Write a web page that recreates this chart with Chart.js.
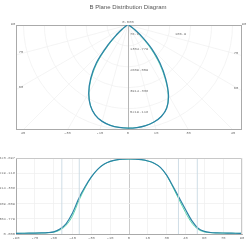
<!DOCTYPE html>
<html><head><meta charset="utf-8">
<script src="https://cdn.jsdelivr.net/npm/chart.js@4.4.1/dist/chart.umd.min.js"></script>
<style>
html,body{margin:0;padding:0;background:#fff;width:247px;height:247px;overflow:hidden}
#title{position:absolute;left:0;top:3px;width:256px;text-align:center;font:6px "Liberation Sans",Arial,sans-serif;color:#555;line-height:8px;white-space:nowrap}
#c1{position:absolute;left:0;top:0}
#c2{position:absolute;left:0;top:140px}
</style></head><body>
<canvas id="c1" width="247" height="140"></canvas>
<canvas id="c2" width="247" height="107"></canvas>
<div id="title">B Plane Distribution Diagram</div>
<script>
// ---- data ----
const angles = [-90,-85,-80,-75,-70,-65,-60,-55,-50,-45,-40,-35,-30,-25,-20,-15,-10,-5,0,5,10,15,20,25,30,35,40,45,50,55,60,65,70,75,80,85,90];
const seriesA = [60,65,70,80,95,120,180,420,900,1800,3050,4050,4900,5550,5980,6230,6360,6420,6440,6430,6380,6270,6080,5720,5050,4100,3100,2100,1150,500,220,130,100,85,75,65,60];
const seriesB = [55,60,65,72,85,105,150,340,760,1550,2850,3950,4870,5540,5975,6225,6355,6415,6435,6425,6375,6265,6070,5710,5020,4000,2920,1850,950,400,180,110,90,78,68,60,55];
const intensityTicks = [0, 1304.779, 2609.559, 3914.338, 5219.118, 6523.897];
const angleTicks = [-90,-75,-60,-45,-30,-15,0,15,30,45,60,75,90];
const rayAngles = [-90,-75,-60,-45,-30,-15,0,15,30,45,60,75,90];
const rayLabels = ['90','75','60','45','-30','-15','0','15','30','45','60','75','90'];
const beamMarkers = [-53.5,-39.6,39.4,54.4];
const centerLabel = '0.000';
const extraLabels = ['76.8','106.9'];
// polar axis ranges (cd)
const polarXMin = -6990, polarXMax = 7115, polarYMin = -6555;

const MONO = '"Liberation Mono","DejaVu Sans Mono",monospace';
const colA = '#2b84a6', colB = '#4fd4a6';

function toPolar(vals){
  return angles.map((a,i)=>{const t=a*Math.PI/180;return {x:vals[i]*Math.sin(t), y:-vals[i]*Math.cos(t)};});
}

const polarPlugin = {
  id:'polarGrid',
  beforeDatasetsDraw(chart){
    const {ctx, chartArea:a, scales:{x,y}} = chart;
    const cx = x.getPixelForValue(0), cy = y.getPixelForValue(0);
    const ppu = (x.getPixelForValue(1000)-cx)/1000;
    ctx.save();
    ctx.beginPath(); ctx.rect(a.left,a.top,a.right-a.left,a.bottom-a.top); ctx.clip();
    ctx.strokeStyle='#efefef'; ctx.lineWidth=0.7;
    intensityTicks.forEach(v=>{ if(v<=0) return; ctx.beginPath(); ctx.arc(cx,cy,v*ppu,0,Math.PI); ctx.stroke(); });
    rayAngles.forEach(d=>{ if(d===0||Math.abs(d)===90) return; const t=d*Math.PI/180; ctx.beginPath(); ctx.moveTo(cx,cy); ctx.lineTo(cx+400*Math.sin(t), cy+400*Math.cos(t)); ctx.stroke(); });
    ctx.restore();
    ctx.save();
    ctx.strokeStyle='#b5b5b5'; ctx.lineWidth=1;
    ctx.beginPath(); ctx.moveTo(Math.round(cx)+0.5,a.top); ctx.lineTo(Math.round(cx)+0.5,a.bottom); ctx.stroke();
    ctx.strokeStyle='#aaaaaa';
    ctx.strokeRect(a.left+0.5,a.top+0.5,a.right-a.left-1,a.bottom-a.top-1);
    ctx.restore();
  },
  afterDraw(chart){
    const {ctx, chartArea:a, scales:{x,y}} = chart;
    const cx = x.getPixelForValue(0), cy = y.getPixelForValue(0);
    const ppu = (x.getPixelForValue(1000)-cx)/1000;
    ctx.save();
    ctx.font = '3.8px '+MONO; ctx.fillStyle='#777'; ctx.textBaseline='middle';
    rayAngles.forEach((d,i)=>{
      const t=d*Math.PI/180, s=Math.sin(t), c=Math.cos(t), txt=rayLabels[i];
      if(Math.abs(d)===90){
        ctx.textAlign='center';
        ctx.fillText(txt, d<0 ? a.left-3 : a.right+2, a.top-1);
        return;
      }
      const tb = c>1e-6 ? (a.bottom-cy)/c : Infinity;
      const ts = s<0 ? (cx-a.left)/(-s) : (s>0 ? (a.right-cx)/s : Infinity);
      ctx.textAlign='center';
      if(tb<=ts){
        ctx.fillText(txt, cx+tb*s, a.bottom+2.5);
      } else {
        ctx.fillText(txt, s<0 ? a.left+5 : a.right-6, cy+ts*c-3);
      }
    });
    ctx.textAlign='left';
    intensityTicks.forEach(v=>{ if(v<=0) return; const yy=cy+v*ppu+3; if(yy>a.bottom-2) return; ctx.fillText(v.toFixed(3), cx+2, yy); });
    ctx.textAlign='center';
    ctx.fillText(centerLabel, cx, cy-3);
    ctx.textAlign='left';
    ctx.fillText(extraLabels[0], cx+2, cy+9);
    ctx.fillText(extraLabels[1], cx+47, cy+9);
    ctx.restore();
  }
};

new Chart(document.getElementById('c1'), {
  type:'scatter',
  data:{datasets:[
    {data:toPolar(seriesA), showLine:true, borderColor:colA, borderWidth:1.3, pointRadius:0, tension:0.35, fill:false},
    {data:toPolar(seriesB), showLine:true, borderColor:colB, borderWidth:0.8, pointRadius:0, tension:0.35, fill:false}
  ]},
  options:{
    responsive:false, devicePixelRatio:1, animation:false,
    layout:{padding:{left:16,right:5,top:25,bottom:10}},
    plugins:{legend:{display:false}, tooltip:{enabled:false}, title:{display:false}},
    scales:{
      x:{type:'linear', display:false, min:polarXMin, max:polarXMax},
      y:{type:'linear', display:false, min:polarYMin, max:0}
    }
  },
  plugins:[polarPlugin]
});

const borderPlugin = {
  id:'box',
  afterDatasetsDraw(chart){
    const {ctx, chartArea:a} = chart;
    ctx.save(); ctx.strokeStyle='#c8c8c8'; ctx.lineWidth=1;
    ctx.beginPath(); ctx.moveTo(a.left,a.top+0.5); ctx.lineTo(a.right-0.5,a.top+0.5); ctx.lineTo(a.right-0.5,a.bottom); ctx.stroke();
    ctx.restore();
  }
};

const yMax = intensityTicks[intensityTicks.length-1];
new Chart(document.getElementById('c2'), {
  type:'scatter',
  data:{datasets:[
    ...beamMarkers.map(m=>({data:[{x:m,y:0},{x:m,y:yMax}], showLine:true, borderColor:'#c9d9e3', borderWidth:0.9, pointRadius:0})),
    {data:angles.map((a,i)=>({x:a,y:seriesA[i]})), showLine:true, borderColor:colA, borderWidth:1.2, pointRadius:0, cubicInterpolationMode:'monotone'},
    {data:angles.map((a,i)=>({x:a,y:seriesB[i]})), showLine:true, borderColor:colB, borderWidth:0.9, pointRadius:0, cubicInterpolationMode:'monotone'}
  ]},
  options:{
    responsive:false, devicePixelRatio:1, animation:false,
    layout:{padding:{left:0,right:5,top:18,bottom:3}},
    plugins:{legend:{display:false}, tooltip:{enabled:false}},
    scales:{
      x:{type:'linear', min:-90, max:90,
        afterBuildTicks:s=>{s.ticks=angleTicks.map(v=>({value:v}));},
        afterFit:s=>{s.height=10;},
        ticks:{font:{size:3.8,family:MONO}, color:'#777', padding:2, maxRotation:0, autoSkip:false, callback:v=>String(v)},
        grid:{color:c=>c.tick&&c.tick.value===0?'#bdbdbd':'#f0f0f0', lineWidth:0.8, drawTicks:false},
        border:{color:'#aaaaaa'}},
      y:{type:'linear', min:0, max:yMax,
        afterBuildTicks:s=>{s.ticks=intensityTicks.map(v=>({value:v}));},
        afterFit:s=>{s.width=16;},
        ticks:{font:{size:3.8,family:MONO}, color:'#777', padding:1, callback:v=>Number(v).toFixed(3)},
        grid:{color:'#f0f0f0', lineWidth:0.8, drawTicks:false},
        border:{color:'#aaaaaa'}}
    }
  },
  plugins:[borderPlugin]
});
</script>
</body></html>
